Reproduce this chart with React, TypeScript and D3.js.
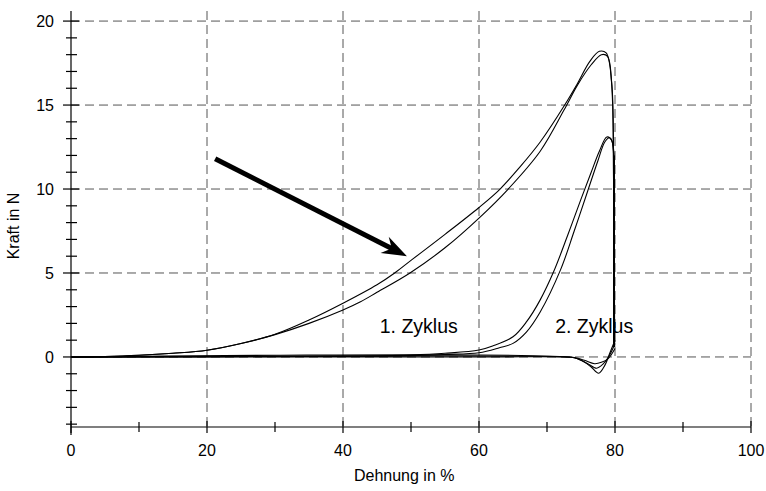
import { useEffect, useRef } from 'react';
import * as d3 from 'd3';

type Pt = [number, number];

// Dehnung in %, Kraft in N
const zyklus1Hin: Pt[] = [
  [0, 0], [5, 0.03], [10, 0.1], [15, 0.22], [20, 0.4], [25, 0.8], [30, 1.35], [35, 2.2],
  [40, 3.2], [45, 4.3], [47.6, 5], [50, 5.75], [55, 7.3], [60, 8.9], [63.1, 10], [66, 11.3],
  [69, 12.8], [72.6, 15], [74.5, 16.3], [76.3, 17.6], [77.7, 18.2], [78.7, 18.1], [79.5, 16.4],
  [79.8, 10], [79.9, 0.6],
];
const zyklus1Rueck: Pt[] = [
  [0, 0], [5, 0.03], [10, 0.1], [15, 0.22], [20, 0.4], [25, 0.8], [30, 1.33], [35, 2.0],
  [40, 2.8], [42.5, 3.27], [45, 3.85], [49.85, 5], [55, 6.5], [60, 8.27], [64.3, 10],
  [69, 12.25], [72.5, 14.7], [74.5, 16.2], [76.5, 17.4], [78, 18.0], [78.9, 17.9], [79.5, 16.3],
  [79.8, 10], [79.9, 0.6],
];
const zyklus2Hin: Pt[] = [
  [0, 0], [20, 0.02], [40, 0.05], [50, 0.12], [55, 0.22], [60, 0.41], [62, 0.65], [65, 1.2],
  [67, 2.1], [69, 3.4], [71, 5.1], [73, 7.2], [75, 9.4], [76.5, 11], [77.7, 12.25],
  [78.8, 13.1], [79.5, 12.9], [79.8, 8], [79.9, 0.6],
];
const zyklus2Rueck: Pt[] = [
  [0, 0], [40, 0.04], [50, 0.08], [55, 0.15], [60, 0.25], [63, 0.55], [65, 0.81], [67, 1.5],
  [69, 2.68], [72, 5.2], [74, 7.5], [76, 9.9], [77.5, 11.7], [78.5, 12.8], [79.2, 13.05],
  [79.6, 12.8], [79.85, 8], [79.95, 0.6],
];
const entlastung1: Pt[] = [
  [80, 1.0], [79.3, 0.3], [78.5, -0.5], [77.6, -0.97], [76.5, -0.6], [75.5, -0.3],
  [74.5, -0.1], [73.5, -0.02], [60, 0], [0, 0],
];
const entlastung2: Pt[] = [
  [80, 0.8], [79.2, 0.1], [78.3, -0.4], [77.3, -0.67], [76, -0.4], [75, -0.2],
  [74, -0.05], [73, 0], [0, 0],
];
const entlastung3: Pt[] = [
  [80, 0.5], [79, -0.1], [78, -0.32], [77, -0.4], [75.5, -0.2], [74, -0.03], [0, 0],
];

const xMajor = [0, 20, 40, 60, 80, 100];
const xMinor = [10, 30, 50, 70, 90];
const yMajor = [0, 5, 10, 15, 20];
const yMinor = d3.range(-4, 21).filter((v) => v % 5 !== 0);

const pfeilStart: Pt = [21.2, 11.8];
const pfeilEnde: Pt = [49.4, 6.0];

const labels = [
  { text: '1. Zyklus', x: 45.4, y: 1.4 },
  { text: '2. Zyklus', x: 71.2, y: 1.4 },
];

const FONT = '"Liberation Sans", Arial, sans-serif';

export default function App() {
  const ref = useRef<SVGSVGElement>(null);

  useEffect(() => {
    const el = ref.current;
    if (!el) return;
    const svg = d3.select(el);
    svg.selectAll('*').remove();

    const x = d3.scaleLinear().domain([0, 100]).range([71, 751]);
    const y = d3.scaleLinear().domain([-4.17, 20.6]).range([427, 11]);

    // grid
    const grid = svg.append('g').attr('stroke', '#555').attr('stroke-width', 1).attr('stroke-dasharray', '9,5');
    grid
      .selectAll('line.h')
      .data(yMajor)
      .join('line')
      .attr('x1', x(0))
      .attr('x2', x(100))
      .attr('y1', (d) => y(d))
      .attr('y2', (d) => y(d));
    grid
      .selectAll('line.v')
      .data(xMajor.slice(1))
      .join('line')
      .attr('class', 'v')
      .attr('x1', (d) => x(d))
      .attr('x2', (d) => x(d))
      .attr('y1', y(20.6))
      .attr('y2', y(-4.17));

    // axes
    const ax = svg.append('g').attr('stroke', '#000').attr('stroke-width', 1.2);
    ax.append('line').attr('x1', x(0)).attr('x2', x(100)).attr('y1', y(-4.17)).attr('y2', y(-4.17));
    ax.append('line').attr('x1', x(0)).attr('x2', x(0)).attr('y1', y(20.6)).attr('y2', y(-4.17) + 8);
    ax.selectAll('line.xM')
      .data(xMajor)
      .join('line')
      .attr('class', 'xM')
      .attr('x1', (d) => x(d))
      .attr('x2', (d) => x(d))
      .attr('y1', y(-4.17) - 6)
      .attr('y2', y(-4.17) + 6);
    ax.selectAll('line.xm')
      .data(xMinor)
      .join('line')
      .attr('class', 'xm')
      .attr('x1', (d) => x(d))
      .attr('x2', (d) => x(d))
      .attr('y1', y(-4.17) - 5)
      .attr('y2', y(-4.17) + 5);
    ax.selectAll('line.yM')
      .data(yMajor)
      .join('line')
      .attr('class', 'yM')
      .attr('x1', x(0) - 8)
      .attr('x2', x(0) + 8)
      .attr('y1', (d) => y(d))
      .attr('y2', (d) => y(d));
    ax.selectAll('line.ym')
      .data(yMinor)
      .join('line')
      .attr('class', 'ym')
      .attr('x1', x(0) - 5)
      .attr('x2', x(0) + 6)
      .attr('y1', (d) => y(d))
      .attr('y2', (d) => y(d));

    const tl = svg.append('g').attr('font-family', FONT).attr('font-size', 16).attr('fill', '#000');
    tl.selectAll('text.x')
      .data(xMajor)
      .join('text')
      .attr('class', 'x')
      .attr('x', (d) => x(d))
      .attr('y', 456)
      .attr('text-anchor', 'middle')
      .text((d) => d);
    tl.selectAll('text.y')
      .data(yMajor)
      .join('text')
      .attr('class', 'y')
      .attr('x', 54)
      .attr('y', (d) => y(d) + 6)
      .attr('text-anchor', 'end')
      .text((d) => d);

    svg
      .append('text')
      .attr('font-family', FONT)
      .attr('font-size', 16)
      .attr('text-anchor', 'middle')
      .attr('transform', `translate(19,${226}) rotate(-90)`)
      .text('Kraft in N');
    svg
      .append('text')
      .attr('font-family', FONT)
      .attr('font-size', 16)
      .attr('text-anchor', 'middle')
      .attr('x', x(49))
      .attr('y', 481)
      .text('Dehnung in %');

    // data
    const line = d3
      .line<Pt>()
      .x((d) => x(d[0]))
      .y((d) => y(d[1]))
      .curve(d3.curveCatmullRom.alpha(0.5));
    const serien = [zyklus1Hin, zyklus1Rueck, zyklus2Hin, zyklus2Rueck, entlastung1, entlastung2, entlastung3];
    svg
      .append('g')
      .selectAll('path')
      .data(serien)
      .join('path')
      .attr('d', (d) => line(d))
      .attr('fill', 'none')
      .attr('stroke', '#000')
      .attr('stroke-width', 1.1);

    // vertical drop at 80 %
    svg
      .append('line')
      .attr('x1', x(79.85))
      .attr('x2', x(79.85))
      .attr('y1', y(12))
      .attr('y2', y(0.6))
      .attr('stroke', '#000')
      .attr('stroke-width', 2);

    // labels
    svg
      .append('g')
      .selectAll('text')
      .data(labels)
      .join('text')
      .attr('font-family', FONT)
      .attr('font-size', 19.5)
      .attr('x', (d) => x(d.x))
      .attr('y', (d) => y(d.y))
      .text((d) => d.text);

    // arrow
    const [sx, sy] = [x(pfeilStart[0]), y(pfeilStart[1])];
    const [ex, ey] = [x(pfeilEnde[0]), y(pfeilEnde[1])];
    const len = Math.hypot(ex - sx, ey - sy);
    const ux = (ex - sx) / len;
    const uy = (ey - sy) / len;
    const nx = -uy;
    const ny = ux;
    const p = (a: number, b: number) => `${ex + ux * a + nx * b},${ey + uy * a + ny * b}`;
    svg
      .append('line')
      .attr('x1', sx)
      .attr('y1', sy)
      .attr('x2', ex - ux * 16)
      .attr('y2', ey - uy * 16)
      .attr('stroke', '#000')
      .attr('stroke-width', 5);
    svg
      .append('polygon')
      .attr('points', [p(0, 0), p(-25, 9), p(-17, 0), p(-25, -9)].join(' '))
      .attr('fill', '#000');
  }, []);

  return (
    <svg
      ref={ref}
      width={766}
      height={491}
      style={{ position: 'absolute', left: 0, top: 0, background: '#fff' }}
    />
  );
}
